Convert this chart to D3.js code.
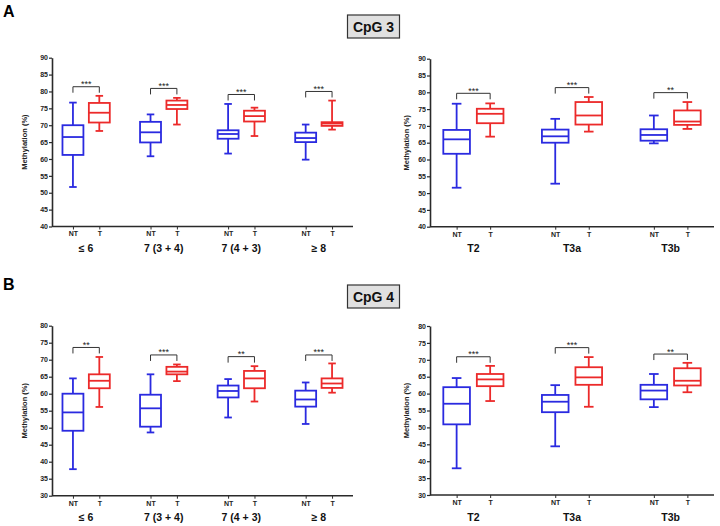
<!DOCTYPE html>
<html>
<head>
<meta charset="utf-8">
<script src="https://cdn.jsdelivr.net/npm/d3@7"></script>
<style>
  body { margin: 0; background: #fff; }
  text { font-family: "Liberation Sans", Arial, sans-serif; }
</style>
</head>
<body>
<div id="chart"></div>
<script>
// Categories
const gleasonGroups = ['≤ 6', '7 (3 + 4)', '7 (4 + 3)', '≥ 8'];
const stageGroups = ['T2', 'T3a', 'T3b'];
const subGroups = ['NT', 'T'];

// Tick labels
const ticksCpG3 = [40, 45, 50, 55, 60, 65, 70, 75, 80, 85, 90];
const ticksCpG4 = [30, 35, 40, 45, 50, 55, 60, 65, 70, 75, 80];

// Box stats: [min, q1, median, q3, max]
const cpg3GleasonNT = [[51.7, 61.2, 66.5, 70.0, 76.7], [60.8, 64.9, 67.9, 71.0, 73.2], [61.6, 66.0, 67.4, 68.5, 76.3], [59.8, 65.0, 66.2, 67.8, 70.2]];
const cpg3GleasonT  = [[68.3, 70.8, 73.7, 76.6, 78.7], [70.2, 74.8, 76.0, 77.3, 78.1], [66.8, 71.1, 72.7, 74.3, 75.2], [68.7, 69.8, 70.5, 70.9, 77.3]];
const cpg3StageNT = [[51.6, 61.7, 66.0, 68.8, 76.6], [52.8, 65.0, 66.9, 68.9, 72.1], [64.8, 65.6, 67.3, 69.0, 73.1]];
const cpg3StageT  = [[66.8, 70.8, 73.6, 75.1, 76.7], [68.3, 70.4, 73.1, 77.1, 78.6], [69.1, 70.3, 71.3, 74.6, 77.1]];

const cpg4GleasonNT = [[37.8, 49.1, 54.5, 60.0, 64.5], [48.6, 50.3, 55.7, 59.7, 65.7], [53.0, 58.9, 60.8, 62.4, 64.3], [51.1, 56.2, 58.3, 60.9, 63.3]];
const cpg4GleasonT  = [[56.1, 61.6, 63.8, 65.7, 70.8], [63.7, 65.7, 66.5, 67.9, 68.6], [57.7, 61.6, 64.5, 66.7, 68.1], [60.3, 61.7, 63.0, 64.5, 68.9]];
const cpg4StageNT = [[37.9, 50.9, 57.0, 61.9, 64.6], [44.4, 54.5, 57.6, 59.6, 62.5], [56.0, 58.3, 60.9, 62.6, 65.8]];
const cpg4StageT  = [[57.8, 62.2, 64.2, 65.8, 68.2], [56.1, 62.6, 64.8, 67.8, 70.8], [60.4, 62.4, 63.8, 67.5, 69.1]];

// Significance brackets (level in %) and stars
const cpg3GleasonSig = [81.4, 80.9, 79.1, 80.0];
const cpg3GleasonStars = ['***', '***', '***', '***'];
const cpg3StageSig = [79.7, 81.4, 79.9];
const cpg3StageStars = ['***', '***', '**'];
const cpg4GleasonSig = [73.6, 71.4, 70.9, 71.4];
const cpg4GleasonStars = ['**', '***', '**', '***'];
const cpg4StageSig = [70.9, 73.6, 71.7];
const cpg4StageStars = ['***', '***', '**'];

const colorNT = '#2a2ae0';
const colorT = '#ec2a2a';
const axisColor = '#2a2a2a';

const svg = d3.select('#chart').append('svg')
  .attr('width', 720)
  .attr('height', 526);

function drawPanel(p) {
  const g = svg.append('g');

  // Y scale
  const y = d3.scaleLinear()
    .domain([p.ticks[0], p.ticks[p.ticks.length - 1]])
    .range([p.bottom, p.top]);

  // Group scale
  const x = d3.scalePoint()
    .domain(p.groups)
    .range([p.left, p.right])
    .padding(0.44);
  const step = x.step();
  const off = step * 0.17;
  const bw = step * 0.27;

  // Sub scale: NT / T tick positions
  const keys = [], pos = [];
  p.groups.forEach(gr => subGroups.forEach((s, i) => {
    keys.push(gr + '|' + s);
    pos.push(x(gr) + (i === 0 ? -off : off));
  }));
  const xs = d3.scaleOrdinal().domain(keys).range(pos);

  // Y axis
  const yAxis = g.append('g')
    .attr('transform', 'translate(' + p.left + ',0)')
    .call(d3.axisLeft(y).tickValues(p.ticks).tickSize(3).tickSizeOuter(0).tickPadding(1));
  yAxis.select('.domain').attr('stroke', axisColor).attr('stroke-width', 1.6);
  yAxis.selectAll('.tick line').attr('stroke', axisColor).attr('stroke-width', 1.2);
  yAxis.selectAll('text')
    .attr('fill', '#222')
    .style('font-size', '7px')
    .style('font-weight', 'bold');

  // X axis
  const xAxis = g.append('g')
    .attr('transform', 'translate(0,' + p.bottom + ')')
    .call(d3.axisBottom(xs).tickSize(3).tickSizeOuter(0).tickPadding(2)
      .tickFormat(k => k.split('|')[1]));
  xAxis.select('.domain').remove();
  xAxis.selectAll('.tick line').attr('stroke', axisColor).attr('stroke-width', 1);
  xAxis.selectAll('text')
    .attr('fill', '#222')
    .style('font-size', '7px')
    .style('font-weight', 'bold');
  g.append('line')
    .attr('x1', p.left).attr('x2', p.right)
    .attr('y1', p.bottom).attr('y2', p.bottom)
    .attr('stroke', axisColor).attr('stroke-width', 1.6);

  // Group labels
  g.selectAll('.grp')
    .data(p.groups)
    .enter().append('text')
      .attr('x', d => x(d))
      .attr('y', p.bottom + 25.5)
      .attr('text-anchor', 'middle')
      .style('font-size', '10.5px')
      .style('font-weight', 'bold')
      .attr('fill', '#111')
      .text(d => d);

  // Y label
  g.append('text')
    .attr('transform', 'translate(' + p.labelX + ',' + ((p.top + p.bottom) / 2) + ') rotate(-90)')
    .attr('text-anchor', 'middle')
    .style('font-size', '7.5px')
    .style('font-weight', 'bold')
    .attr('fill', '#222')
    .text('Methylation (%)');

  // Boxes
  const boxes = [];
  p.groups.forEach((gr, i) => {
    boxes.push({ cx: xs(gr + '|NT'), s: p.nt[i], color: colorNT });
    boxes.push({ cx: xs(gr + '|T'), s: p.t[i], color: colorT });
  });
  const bx = g.selectAll('.box')
    .data(boxes)
    .enter().append('g')
      .attr('stroke', d => d.color)
      .attr('stroke-width', 1.8)
      .attr('fill', 'none');
  bx.append('line')
    .attr('x1', d => d.cx).attr('x2', d => d.cx)
    .attr('y1', d => y(d.s[4])).attr('y2', d => y(d.s[3]));
  bx.append('line')
    .attr('x1', d => d.cx).attr('x2', d => d.cx)
    .attr('y1', d => y(d.s[1])).attr('y2', d => y(d.s[0]));
  bx.append('line')
    .attr('x1', d => d.cx - bw * 0.18).attr('x2', d => d.cx + bw * 0.18)
    .attr('y1', d => y(d.s[4])).attr('y2', d => y(d.s[4]));
  bx.append('line')
    .attr('x1', d => d.cx - bw * 0.18).attr('x2', d => d.cx + bw * 0.18)
    .attr('y1', d => y(d.s[0])).attr('y2', d => y(d.s[0]));
  bx.append('rect')
    .attr('x', d => d.cx - bw / 2)
    .attr('width', bw)
    .attr('y', d => y(d.s[3]))
    .attr('height', d => y(d.s[1]) - y(d.s[3]))
    .attr('fill', '#fff');
  bx.append('line')
    .attr('x1', d => d.cx - bw / 2).attr('x2', d => d.cx + bw / 2)
    .attr('y1', d => y(d.s[2])).attr('y2', d => y(d.s[2]));

  // Significance brackets
  const sig = g.selectAll('.sig')
    .data(p.groups.map((gr, i) => ({ gr: gr, lvl: p.sig[i], stars: p.stars[i] })))
    .enter().append('g');
  sig.append('path')
    .attr('d', d => {
      const x1 = xs(d.gr + '|NT'), x2 = xs(d.gr + '|T'), yy = y(d.lvl);
      return 'M' + x1 + ',' + (yy + 6) + 'V' + yy + 'H' + x2 + 'V' + (yy + 6);
    })
    .attr('fill', 'none')
    .attr('stroke', '#333')
    .attr('stroke-width', 1);
  sig.append('text')
    .attr('x', d => x(d.gr))
    .attr('y', d => y(d.lvl) + 0.5)
    .attr('text-anchor', 'middle')
    .style('font-size', '9px')
    .attr('fill', '#222')
    .text(d => d.stars);
}

function drawHeader(letter, ly, label, by) {
  svg.append('text')
    .attr('x', 3).attr('y', ly)
    .style('font-size', '16px')
    .style('font-weight', 'bold')
    .attr('fill', '#000')
    .text(letter);
  svg.append('rect')
    .attr('x', 347.5).attr('y', by)
    .attr('width', 52).attr('height', 23)
    .attr('fill', '#e0e0e0')
    .attr('stroke', '#333')
    .attr('stroke-width', 1.2);
  svg.append('text')
    .attr('x', 373.5).attr('y', by + 16.5)
    .attr('text-anchor', 'middle')
    .style('font-size', '14px')
    .style('font-weight', 'bold')
    .attr('fill', '#111')
    .text(label);
}

drawHeader('A', 17, 'CpG 3', 15);
drawHeader('B', 290, 'CpG 4', 285);

drawPanel({ groups: gleasonGroups, ticks: ticksCpG3, nt: cpg3GleasonNT, t: cpg3GleasonT,
  sig: cpg3GleasonSig, stars: cpg3GleasonStars, left: 52, right: 353, top: 57.7, bottom: 226.5, labelX: 27 });
drawPanel({ groups: stageGroups, ticks: ticksCpG3, nt: cpg3StageNT, t: cpg3StageT,
  sig: cpg3StageSig, stars: cpg3StageStars, left: 430, right: 714, top: 58.7, bottom: 226.7, labelX: 409 });
drawPanel({ groups: gleasonGroups, ticks: ticksCpG4, nt: cpg4GleasonNT, t: cpg4GleasonT,
  sig: cpg4GleasonSig, stars: cpg4GleasonStars, left: 52, right: 353, top: 325.7, bottom: 495.7, labelX: 27 });
drawPanel({ groups: stageGroups, ticks: ticksCpG4, nt: cpg4StageNT, t: cpg4StageT,
  sig: cpg4StageSig, stars: cpg4StageStars, left: 430, right: 714, top: 326, bottom: 495, labelX: 409 });
</script>
</body>
</html>
